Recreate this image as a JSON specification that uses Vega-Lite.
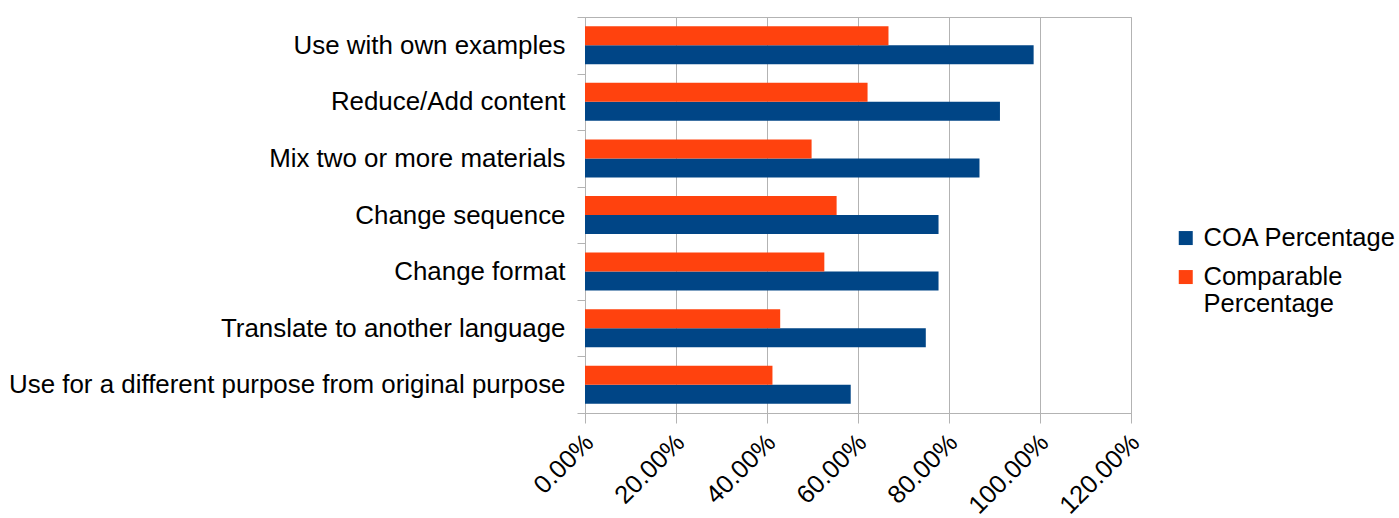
{
  "$schema": "https://vega.github.io/schema/vega-lite/v6.json",
  "width": 546,
  "height": 396,
  "autosize": {"type": "none"},
  "padding": {"left": 585, "top": 17, "right": 268, "bottom": 105},
  "background": "white",
  "config": {
    "font": "Liberation Sans",
    "view": {"stroke": "#b3b3b3", "strokeWidth": 1},
    "axis": {
      "domainColor": "#b3b3b3",
      "tickColor": "#b3b3b3",
      "gridColor": "#b3b3b3",
      "labelColor": "black",
      "labelFont": "Liberation Sans",
      "labelFontSize": 25.5
    }
  },
  "data": {
    "values": [
      {"category": "Use with own examples", "series": "COA Percentage", "value": 0.986},
      {"category": "Use with own examples", "series": "Comparable Percentage", "value": 0.667},
      {"category": "Reduce/Add content", "series": "COA Percentage", "value": 0.912},
      {"category": "Reduce/Add content", "series": "Comparable Percentage", "value": 0.621},
      {"category": "Mix two or more materials", "series": "COA Percentage", "value": 0.867},
      {"category": "Mix two or more materials", "series": "Comparable Percentage", "value": 0.498},
      {"category": "Change sequence", "series": "COA Percentage", "value": 0.777},
      {"category": "Change sequence", "series": "Comparable Percentage", "value": 0.553},
      {"category": "Change format", "series": "COA Percentage", "value": 0.777},
      {"category": "Change format", "series": "Comparable Percentage", "value": 0.526},
      {"category": "Translate to another language", "series": "COA Percentage", "value": 0.749},
      {"category": "Translate to another language", "series": "Comparable Percentage", "value": 0.429},
      {"category": "Use for a different purpose from original purpose", "series": "COA Percentage", "value": 0.584},
      {"category": "Use for a different purpose from original purpose", "series": "Comparable Percentage", "value": 0.412}
    ]
  },
  "mark": {"type": "bar"},
  "encoding": {
    "y": {
      "field": "category",
      "type": "nominal",
      "sort": ["Use with own examples", "Reduce/Add content", "Mix two or more materials", "Change sequence", "Change format", "Translate to another language", "Use for a different purpose from original purpose"],
      "scale": {"paddingInner": 0, "paddingOuter": 0},
      "axis": {"title": null, "tickBand": "extent", "tickSize": 8, "labelPadding": 12, "labelLimit": 0, "grid": false, "labelFontSize": 25.9}
    },
    "yOffset": {
      "field": "series",
      "sort": ["Comparable Percentage", "COA Percentage"],
      "scale": {"paddingInner": 0, "paddingOuter": 0.49}
    },
    "x": {
      "field": "value",
      "type": "quantitative",
      "scale": {"domain": [0, 1.2], "nice": false},
      "axis": {
        "title": null,
        "format": ".2%",
        "values": [0, 0.2, 0.4, 0.6, 0.8, 1.0, 1.2],
        "labelAngle": -45,
        "labelAlign": "right",
        "labelBaseline": "middle",
        "labelPadding": 15,
        "labelOffset": 4,
        "tickSize": 10,
        "grid": true
      }
    },
    "color": {
      "field": "series",
      "type": "nominal",
      "scale": {"domain": ["COA Percentage", "Comparable Percentage"], "range": ["#004586", "#ff420e"]},
      "legend": {
        "title": null,
        "orient": "none",
        "legendX": 588,
        "legendY": 216,
        "symbolType": "M-1,-2.1H1V-0.1H-1Z",
        "symbolSize": 196,
        "symbolStrokeWidth": 0,
        "symbolOpacity": 1,
        "labelFontSize": 25.5,
        "labelColor": "black",
        "labelBaseline": "alphabetic",
        "labelOffset": 5,
        "labelLimit": 0,
        "rowPadding": 12,
        "labelExpr": "datum.label == 'Comparable Percentage' ? ['Comparable', 'Percentage'] : datum.label"
      }
    }
  }
}
